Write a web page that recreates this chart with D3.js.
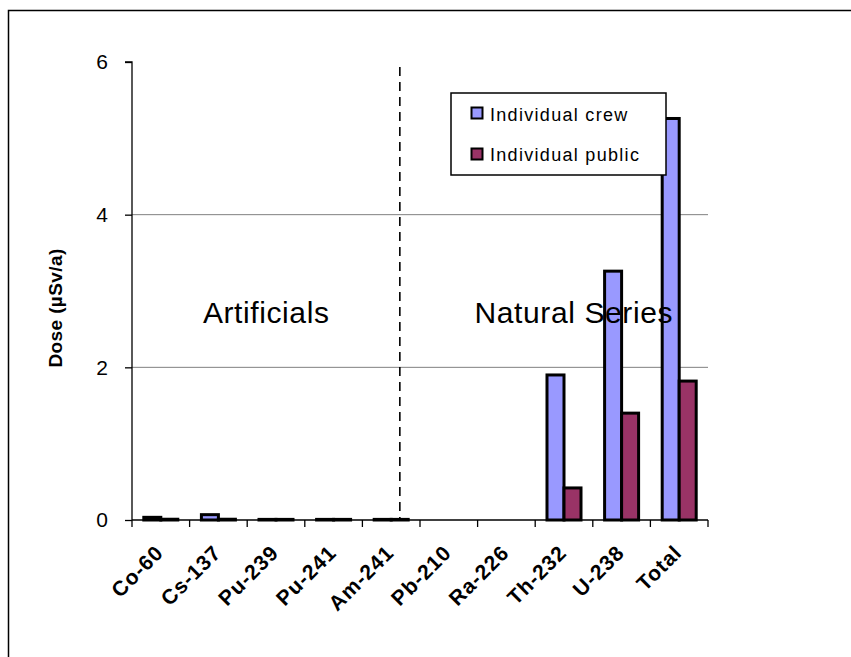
<!DOCTYPE html>
<html>
<head>
<meta charset="utf-8">
<script src="https://cdn.jsdelivr.net/npm/d3@7"></script>
<style>
  body { margin: 0; background: #fff; }
  text { font-family: "Liberation Sans", Arial, sans-serif; }
</style>
</head>
<body>
<div id="chart"></div>
<script>
// data
var nuclides = ["Co-60", "Cs-137", "Pu-239", "Pu-241", "Am-241", "Pb-210", "Ra-226", "Th-232", "U-238", "Total"];
var seriesNames = ["Individual crew", "Individual public"];
var crewDose = [0.035, 0.07, 0.008, 0.008, 0.008, 0, 0, 1.9, 3.26, 5.26];
var publicDose = [0.01, 0.01, 0.008, 0.008, 0.008, 0, 0, 0.42, 1.4, 1.82];
var yTicks = [0, 2, 4, 6];
var colors = ["#9999ff", "#993366"];

var width = 851, height = 657;
var margin = {top: 62, right: 143, bottom: 137, left: 132},
    w = width - margin.left - margin.right,
    h = height - margin.top - margin.bottom;

var svg = d3.select("#chart").append("svg")
    .attr("width", width)
    .attr("height", height);

// outer frame
svg.append("rect")
    .attr("x", 8.5).attr("y", 10.5)
    .attr("width", 900).attr("height", 700)
    .attr("fill", "none").attr("stroke", "#000").attr("stroke-width", 1.5);

var g = svg.append("g")
    .attr("transform", "translate(" + margin.left + "," + margin.top + ")");

var x0 = d3.scaleBand().domain(nuclides).range([0, w]);
var x1 = d3.scaleBand().domain(seriesNames).range([0, x0.step()]).paddingOuter(0.694);
var y = d3.scaleLinear().domain([0, 6]).range([h, 0]);

// gridlines
g.selectAll(".grid").data(yTicks.filter(function(d) { return d > 0 && d < 6; }))
  .enter().append("line")
    .attr("x1", 0).attr("x2", w)
    .attr("y1", function(d) { return y(d); })
    .attr("y2", function(d) { return y(d); })
    .attr("stroke", "#808080").attr("stroke-width", 1);

// bars
var rows = nuclides.map(function(n, i) {
    return {name: n, values: [crewDose[i], publicDose[i]]};
});
var groups = g.selectAll(".grp").data(rows).enter().append("g")
    .attr("transform", function(d) { return "translate(" + x0(d.name) + ",0)"; });
groups.selectAll("rect").data(function(d) {
        return d.values.map(function(v, k) { return {s: seriesNames[k], v: v, k: k}; });
    })
  .enter().append("rect")
    .attr("x", function(d) { return x1(d.s); })
    .attr("y", function(d) { return y(d.v); })
    .attr("width", x1.bandwidth())
    .attr("height", function(d) { return h - y(d.v); })
    .attr("fill", function(d) { return colors[d.k]; })
    .attr("stroke", "#000").attr("stroke-width", 3);

// y axis
var yAxis = g.append("g")
    .call(d3.axisLeft(y).tickValues(yTicks).tickFormat(d3.format("d")).tickSize(7).tickPadding(17));
yAxis.select(".domain").attr("stroke-width", 1.3).attr("d", "M-7," + y(6) + "H0V" + h);
yAxis.selectAll("text").style("font-size", "21px").attr("fill", "#000");
yAxis.selectAll("line").attr("stroke-width", 1.3);

// x axis line and boundary ticks
g.append("line").attr("x1", 0).attr("x2", w).attr("y1", h).attr("y2", h)
    .attr("stroke", "#000").attr("stroke-width", 1.3);
g.selectAll(".xt").data(nuclides.concat(["end"])).enter().append("line")
    .attr("x1", function(d, i) { return i * x0.step(); })
    .attr("x2", function(d, i) { return i * x0.step(); })
    .attr("y1", h).attr("y2", h + 7)
    .attr("stroke", "#000").attr("stroke-width", 1.3);

g.selectAll(".xl").data(nuclides).enter().append("text")
    .attr("transform", function(d) {
        return "translate(" + (x0(d) + x0.bandwidth() / 2 + 4) + "," + (h + 34) + ") rotate(-45)";
    })
    .attr("text-anchor", "end")
    .style("font-size", "21px").style("font-weight", "bold").style("letter-spacing", "1px")
    .text(function(d) { return d; });

// y label
svg.append("text")
    .attr("transform", "translate(62,308) rotate(-90)")
    .attr("text-anchor", "middle")
    .style("font-size", "19px").style("font-weight", "bold").style("letter-spacing", "0.4px")
    .text("Dose (µSv/a)");

// dashed separator
var sepX = x0("Am-241") + x0.step() * 0.65;
g.append("line")
    .attr("x1", sepX).attr("x2", sepX)
    .attr("y1", 5).attr("y2", h)
    .attr("stroke", "#000").attr("stroke-width", 1.6)
    .attr("stroke-dasharray", "9,6");

// annotations
g.append("text").attr("x", x0("Pu-239") + x0.step() * 0.33).attr("y", 261)
    .attr("text-anchor", "middle").style("font-size", "30px").style("letter-spacing", "0.6px")
    .text("Artificials");
g.append("text").attr("x", x0("Th-232") + x0.step() * 0.67).attr("y", 261)
    .attr("text-anchor", "middle").style("font-size", "30px").style("letter-spacing", "0.6px")
    .text("Natural Series");

// legend
var lg = svg.append("g").attr("transform", "translate(451,93)");
lg.append("rect").attr("width", 215).attr("height", 82)
    .attr("fill", "#fff").attr("stroke", "#000").attr("stroke-width", 1.5);
seriesNames.forEach(function(s, i) {
    lg.append("rect").attr("x", 20.5).attr("y", 14.5 + i * 41).attr("width", 11).attr("height", 11)
        .attr("fill", colors[i]).attr("stroke", "#000").attr("stroke-width", 2);
    lg.append("text").attr("x", 39).attr("y", 28 + i * 40)
        .style("font-size", "18px").style("letter-spacing", "1.3px").text(s);
});
</script>
</body>
</html>
